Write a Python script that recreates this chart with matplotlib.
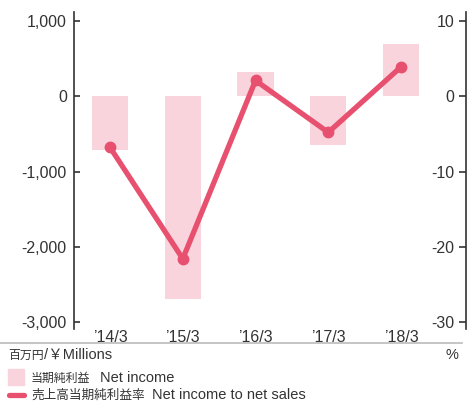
import matplotlib
matplotlib.use("Agg")
import matplotlib.pyplot as plt
from matplotlib.lines import Line2D
from matplotlib.patches import Rectangle

# data
periods = ["\u201914/3", "\u201915/3", "\u201916/3", "\u201917/3", "\u201918/3"]
net_income = [-720, -2690, 320, -650, 690]          # 百万円
net_margin = [-6.8, -21.6, 2.1, -4.8, 3.9]          # %
left_ticks = [1000, 0, -1000, -2000, -3000]
right_ticks = [10, 0, -10, -20, -30]

BAR = "#f9d4dc"
LINE = "#e8506f"
TXT = "#333333"
LATIN = "Liberation Sans"
CJK = "Noto Sans CJK JP"

plt.rcParams["font.family"] = [LATIN, CJK]
plt.rcParams["text.color"] = TXT
plt.rcParams["axes.unicode_minus"] = False

W, H = 468, 401
fig = plt.figure(figsize=(W / 100, H / 100), dpi=100)
ax = fig.add_axes([73.7 / W, 1 - 329 / H, (465.7 - 73.7) / W, (329 - 12) / H])

x = list(range(len(periods)))
ax.bar(x, net_income, width=0.5, color=BAR, zorder=1)
ax.set_xlim(-0.5, 4.89)
ax.set_ylim(-3093, 1120)
ax.set_yticks(left_ticks)
ax.set_yticklabels([f"{v:,}" for v in left_ticks])
ax.set_xticks(x)
ax.set_xticklabels(periods)
for s in ["top", "right", "bottom"]:
    ax.spines[s].set_visible(False)
ax.spines["left"].set_color(TXT)
ax.spines["left"].set_linewidth(1.2)
ax.tick_params(axis="y", direction="in", length=4.5, width=1.2, color=TXT,
               labelsize=11.5, labelcolor=TXT, pad=5)
ax.tick_params(axis="x", length=0, labelsize=11.5, labelcolor=TXT, pad=1)

ax2 = ax.twinx()
ax2.plot(x, net_margin, color=LINE, lw=3.8, marker="o", ms=7.5,
         solid_capstyle="round", zorder=3)
ax2.set_ylim(-30.93, 11.2)
ax2.set_yticks(right_ticks)
ax2.set_yticklabels([str(v) for v in right_ticks])
ax2.yaxis.tick_left()
ax2.spines["left"].set_position(("axes", 1.0))
for s in ["top", "right", "bottom"]:
    ax2.spines[s].set_visible(False)
ax2.spines["left"].set_color(TXT)
ax2.spines["left"].set_linewidth(1.2)
ax2.tick_params(axis="y", direction="out", length=5, width=1.2, color=TXT,
                labelsize=11.5, labelcolor=TXT, pad=3)


def px(xp, yp):
    return xp / W, 1 - yp / H


# separator and unit labels
fig.add_artist(Line2D([0, 462 / W], [1 - 343 / H] * 2, color="#bbbbbb", lw=1.2))
fig.text(*px(8, 355), "百万円", fontsize=8.6, va="center", ha="left",
         family=[CJK])
fig.text(*px(44, 355), "/￥Millions", fontsize=10.5, va="center", ha="left")
fig.text(*px(458, 355), "%", fontsize=10.5, va="center", ha="right")

# legend
fig.add_artist(Rectangle(px(8, 385), 16 / W, 16 / H, color=BAR))
fig.text(*px(31, 378), "当期純利益", fontsize=8.6, va="center", family=[CJK])
fig.text(*px(100, 378), "Net income", fontsize=10.5, va="center")
fig.add_artist(Line2D([9 / W, 24 / W], [1 - 394.5 / H] * 2, color=LINE, lw=3.8,
                      solid_capstyle="round"))
fig.text(*px(31, 395), "売上高当期純利益率", fontsize=9.1, va="center", family=[CJK])
fig.text(*px(152, 395), "Net income to net sales", fontsize=10.5, va="center")

fig.savefig("out.png", dpi=100)
